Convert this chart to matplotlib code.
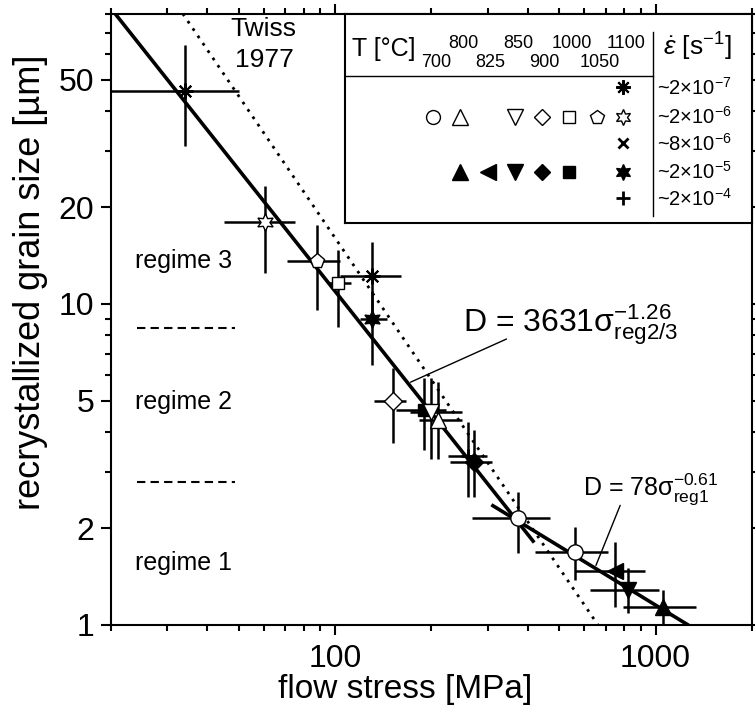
import matplotlib
matplotlib.use('Agg')
import matplotlib.pyplot as plt
from matplotlib.ticker import LogLocator, NullFormatter
import numpy as np

plt.rcParams['font.family'] = ['Liberation Sans', 'DejaVu Sans']
plt.rcParams['mathtext.fontset'] = 'custom'
plt.rcParams['mathtext.rm'] = 'Liberation Sans'
plt.rcParams['mathtext.it'] = 'Liberation Sans:italic'
plt.rcParams['mathtext.bf'] = 'Liberation Sans:bold'

# values: flow stress [MPa], grain size [um], error bar ends
stress = [34, 130, 60.4, 88, 102, 130, 152, 189, 199, 210, 260, 271, 373, 561, 747, 822, 1053]
grain = [46, 12.2, 18, 13.6, 11.6, 9.0, 5.0, 4.67, 4.62, 4.35, 3.36, 3.23, 2.15, 1.685, 1.476, 1.285, 1.135]
stress_lo = [19, 104, 45, 71, 95, 120, 132, 155, 171, 183, 226, 228, 268, 421, 560, 624, 793]
stress_hi = [50, 161, 75, 104, 112, 145, 167, 222, 249, 249, 297, 309, 470, 712, 927, 1028, 1337]
grain_lo = [31, 9.4, 12.5, 9.6, 8.5, 6.45, 3.7, 3.5, 3.3, 3.3, 2.5, 2.5, 1.67, 1.38, 1.14, 1.087, 0.94]
grain_hi = [64, 15.6, 23.3, 17.6, 14.7, 11, 6.3, 5.9, 5.9, 5.7, 4.3, 4.05, 2.6, 2.02, 1.82, 1.50, 1.285]
temp = [1100, 1100, 1100, 1050, 1000, 1100, 900, 1000, 850, 800, 1100, 900, 700, 700, 825, 850, 800]
rate = ['2e-7', '2e-7', '2e-6', '2e-6', '2e-6', '2e-5', '2e-6', '2e-5', '2e-6', '2e-6',
        '2e-4', '2e-5', '2e-6', '2e-6', '2e-5', '2e-5', '2e-5']

# piezometer fits
reg23_K, reg23_n = 3631, -1.26
reg1_K, reg1_n = 78, -0.61
reg23_range = [20, 415]
reg1_range = [311, 1400]
twiss_K, twiss_n = 14000, -1.47

# legend table
temps = [700, 800, 825, 850, 900, 1000, 1050, 1100]
rates = ['2e-7', '2e-6', '8e-6', '2e-5', '2e-4']
rate_labels = ['~2×10$^{-7}$', '~2×10$^{-6}$', '~8×10$^{-6}$', '~2×10$^{-5}$', '~2×10$^{-4}$']
legend_entries = {
    '2e-7': [1100],
    '2e-6': [700, 800, 850, 900, 1000, 1050, 1100],
    '8e-6': [1100],
    '2e-5': [800, 825, 850, 900, 1000, 1100],
    '2e-4': [1100],
}

regime_labels = ['regime 3', 'regime 2', 'regime 1']
regime_label_y = [13.6, 4.95, 1.56]
regime_bounds = [8.4, 2.78]

x_ticks = [100, 1000]
y_ticks = [1, 2, 5, 10, 20, 50]


def marker_style(t, r, ms=11):
    shapes = {700: 'o', 800: '^', 825: '<', 850: 'v', 900: 'D', 1000: 's', 1050: 'p'}
    if t == 1100:
        if r == '2e-7':
            return dict(marker=(8, 2, 0), mfc='k', mec='k', ms=ms * 1.05, mew=1.5)
        if r == '8e-6':
            return dict(marker='x', mfc='k', mec='k', ms=ms * 0.7, mew=2)
        if r == '2e-4':
            return dict(marker='+', mfc='k', mec='k', ms=ms * 0.95, mew=2)
        fill = 'white' if r == '2e-6' else 'k'
        return dict(marker=(6, 1, 0), mfc=fill, mec='k', ms=ms * 1.15, mew=1)
    fill = 'white' if r == '2e-6' else 'k'
    if shapes[t] in ('D', 's'):
        size = ms * 0.85
    elif shapes[t] in ('^', 'v', '<'):
        size = ms * 1.1
    else:
        size = ms
    return dict(marker=shapes[t], mfc=fill, mec='k', ms=size, mew=1)


fig = plt.figure(figsize=(7.55, 7.05), dpi=100)
ax = fig.add_axes([0.147, 0.1135, 0.849, 0.8665])
ax.set_xscale('log')
ax.set_yscale('log')
ax.set_xlim(20, 2000)
ax.set_ylim(1, 80)

# fit lines
s = np.geomspace(*reg23_range, 100)
ax.plot(s, reg23_K * s ** reg23_n, color='k', lw=2.6, zorder=2)
s = np.geomspace(*reg1_range, 100)
ax.plot(s, reg1_K * s ** reg1_n, color='k', lw=2.6, zorder=2)
s = np.geomspace(20, 2000, 100)
ax.plot(s, twiss_K * s ** twiss_n, color='k', lw=2, ls=(0, (1, 2.2)), zorder=2)

# data with error bars
st = np.array(stress)
gr = np.array(grain)
ax.errorbar(st, gr, xerr=[st - np.array(stress_lo), np.array(stress_hi) - st],
            yerr=[gr - np.array(grain_lo), np.array(grain_hi) - gr],
            fmt='none', ecolor='k', elinewidth=1.8, capsize=0, zorder=3)
for x, y, t, r in zip(stress, grain, temp, rate):
    ax.plot(x, y, ls='none', zorder=4, **marker_style(t, r))

# regimes
ytr = ax.get_yaxis_transform()
for lab, y in zip(regime_labels, regime_label_y):
    ax.text(0.037, y, lab, transform=ytr, ha='left', va='center', fontsize=18)
for y in regime_bounds:
    ax.plot([0.04, 0.193], [y, y], transform=ytr, color='k', lw=1.5, ls=(0, (4, 2.5)))

ax.text(0.238, 0.975, 'Twiss', transform=ax.transAxes, ha='center', va='center', fontsize=19)
ax.text(0.240, 0.925, '1977', transform=ax.transAxes, ha='center', va='center', fontsize=19)

# equations with leader lines
ax.text(0.549, 0.48, 'D = 3631σ$_{\\mathrm{reg2/3}}^{-1.26}$', transform=ax.transAxes,
        ha='left', va='baseline', fontsize=23)
x0 = 169
ax.annotate('', xy=(x0, reg23_K * x0 ** reg23_n), xytext=(0.621, 0.47),
            textcoords='axes fraction', arrowprops=dict(arrowstyle='-', lw=1, color='k'))
ax.text(0.736, 0.213, 'D = 78σ$_{\\mathrm{reg1}}^{-0.61}$', transform=ax.transAxes,
        ha='left', va='baseline', fontsize=18)
x1 = 647
ax.annotate('', xy=(x1, reg1_K * x1 ** reg1_n), xytext=(0.796, 0.2),
            textcoords='axes fraction', arrowprops=dict(arrowstyle='-', lw=1, color='k'))

# axes styling
ax.set_xticks(x_ticks, [str(v) for v in x_ticks])
ax.set_yticks(y_ticks, [str(v) for v in y_ticks])
for axis in (ax.xaxis, ax.yaxis):
    axis.set_minor_locator(LogLocator(base=10, subs=range(2, 10)))
    axis.set_minor_formatter(NullFormatter())
ax.tick_params(which='both', direction='out', top=True, right=True, width=1.5, labelsize=23)
ax.tick_params(which='major', length=7, pad=5)
ax.tick_params(axis='x', which='major', pad=7)
ax.tick_params(which='minor', length=4)
for sp in ax.spines.values():
    sp.set_linewidth(1.5)
ax.set_xlabel('flow stress [MPa]', fontsize=24)
ax.xaxis.set_label_coords(0.459, -0.08)
ax.set_ylabel('recrystallized grain size [µm]', fontsize=26)
ax.yaxis.set_label_coords(-0.098, 0.561)

# legend table in an inset
leg = ax.inset_axes([0.365, 0.658, 0.635, 0.342])
leg.set_xlim(0, 1)
leg.set_ylim(0, 1)
leg.set_xticks([])
leg.set_yticks([])
for sp in leg.spines.values():
    sp.set_linewidth(1.5)
col_x = [0.216, 0.283, 0.351, 0.418, 0.484, 0.551, 0.619, 0.684]
row_y = [0.649, 0.509, 0.381, 0.245, 0.118]
for i, (t, cx) in enumerate(zip(temps, col_x)):
    ty = 0.861 if i % 2 else 0.77
    leg.text(cx + 0.007, ty, str(t), ha='center', va='center', fontsize=13)
leg.text(0.017, 0.835, 'T [°C]', ha='left', va='center', fontsize=18)
leg.plot([0, 0.756], [0.703, 0.703], color='k', lw=1)
leg.plot([0.756, 0.756], [0.033, 0.915], color='k', lw=1)
leg.text(0.865, 0.843, '$\\dot{\\varepsilon}$ [s$^{-1}$]', ha='center', va='center', fontsize=19)
for r, lab, ry in zip(rates, rate_labels, row_y):
    leg.text(0.766, ry, lab, ha='left', va='center', fontsize=14.5)
    for t in legend_entries[r]:
        leg.plot(col_x[temps.index(t)], ry, ls='none', **marker_style(t, r, ms=10))

fig.savefig('out.png', dpi=100)
